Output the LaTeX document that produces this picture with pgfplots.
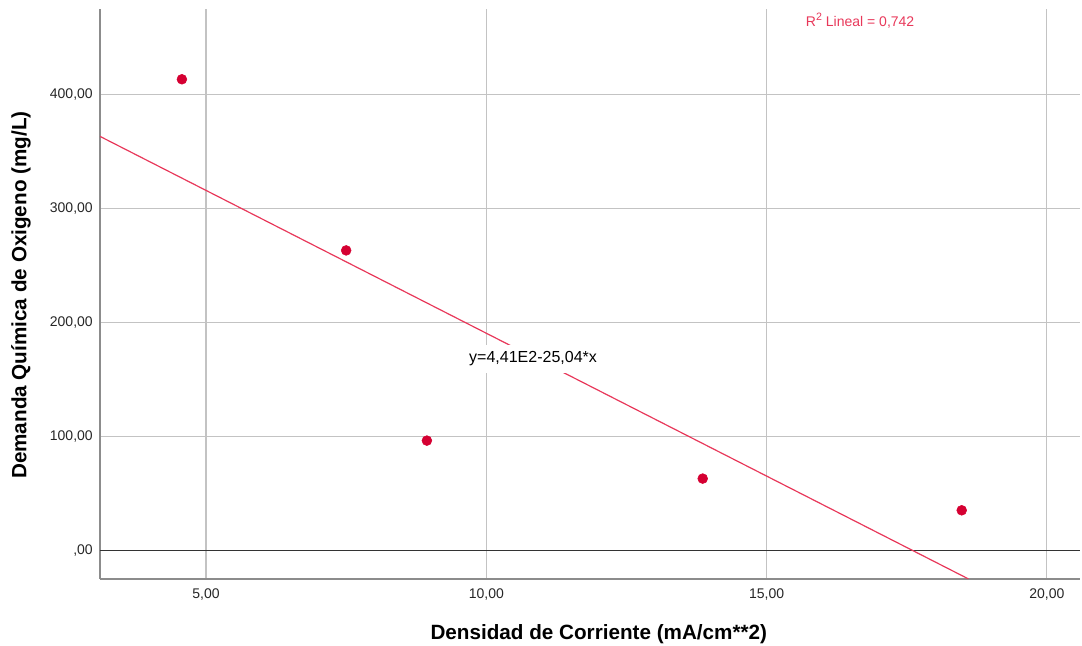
\documentclass[border=0pt]{standalone}
\usepackage{pgfplots}
\pgfplotsset{compat=1.18}
\usepackage{fontspec}
\setmainfont{Liberation Sans}
\definecolor{ptred}{RGB}{213,0,50}
\definecolor{lnred}{RGB}{232,56,90}
\definecolor{gridgray}{RGB}{195,195,195}
\definecolor{axgray}{RGB}{140,140,140}
\begin{document}
\begin{tikzpicture}
\useasboundingbox (-75pt,-50.25pt) rectangle (736.5pt,434.25pt);
\begin{axis}[
 scale only axis, width=735pt, height=427.5pt,
 xmin=3.109, xmax=20.59, ymin=-24.8, ymax=474.8,
 axis x line*=bottom, axis y line*=left,
 axis line style={axgray, line width=0.9pt, -},
 xtick={5,10,15,20}, xticklabels={{5,00},{10,00},{15,00},{20,00}},
 ytick={0,100,200,300,400}, yticklabels={{,00},{100,00},{200,00},{300,00},{400,00}},
 major tick length=0pt,
 grid=major, grid style={gridgray, line width=0.85pt},
 tick label style={font=\fontsize{10.5}{12}\selectfont, inner sep=0pt, text=black!85},
 xticklabel style={anchor=center, yshift=-12pt},
 yticklabel style={anchor=east, xshift=-5.25pt},
 xlabel={Densidad de Corriente (mA/cm**2)},
 ylabel={Demanda Química de Oxigeno (mg/L)},
 label style={font=\bfseries\fontsize{15.5}{18}\selectfont},
 xlabel style={at={(axis description cs:0.509,-0.0965)}, anchor=center},
 ylabel style={at={(axis description cs:-0.0806,0.498)}, anchor=center},
]
\addplot[black!80, line width=1pt, forget plot] coordinates {(3.109,0) (20.59,0)};
\addplot[lnred, line width=0.9pt] coordinates {(3.109,363.15) (18.60,-24.74)};
\addplot[only marks, mark=*, mark size=3.7pt, mark options={draw=ptred, fill=ptred}] coordinates {(4.57,413.2) (7.50,263.2) (8.94,96.5) (13.86,63.2) (18.48,35.4)};
\node[fill=white, inner xsep=2pt, inner ysep=5pt, font=\fontsize{12}{14}\selectfont] at (axis cs:10.834,168.3) {y=4,41E2-25,04*x};
\node[text=lnred, font=\fontsize{10.5}{12}\selectfont] at (axis cs:16.668,464.5) {R\raisebox{0.45em}{\fontsize{8}{9}\selectfont 2} Lineal = 0,742};
\end{axis}
\end{tikzpicture}
\end{document}
